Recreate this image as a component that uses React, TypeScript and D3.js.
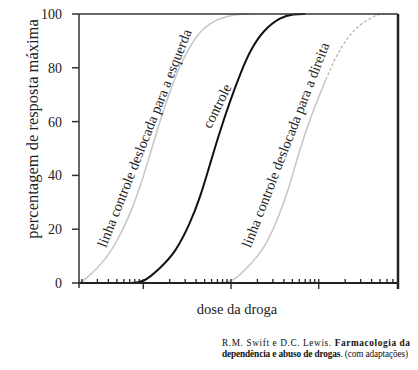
import React, { useEffect, useRef } from 'react';
import * as d3 from 'd3';

// dose (log) vs percentage of maximal response
const controlDose = [7, 10, 15.6, 23.1, 34.3, 44.7, 58.1, 75.5, 98.3, 128, 166, 234, 367, 516, 700];
const controlResp = [0, 0, 5.6, 11.2, 22.3, 32, 44.6, 56.9, 68, 78, 86.6, 94, 98.9, 100, 100];

const leftDose = [1.85, 2.0, 3.13, 4.41, 6.89, 8.97, 11.7, 15.2, 19.8, 25.7, 33.4, 47.1, 73.6, 115, 160];
const leftResp = [0, 0.3, 6, 12, 24.5, 34.6, 46.8, 59.5, 70.6, 80.3, 87.7, 94.8, 98.5, 100, 100];

const rightDose = [70, 101, 158, 247, 348, 452, 589, 765, 995, 1197, 1560, 2028, 2856, 4467, 5225, 6500];
const rightResp = [0, 0, 6, 13.4, 24.5, 34.6, 48.3, 59.5, 69, 75.5, 84, 90.3, 96, 99.6, 100, 100];
const rightSolidUntil = 75.5; // above this the line is dashed

const yTicks = [0, 20, 40, 60, 80, 100];
const majorDoses = [10, 100, 1000];

const labels = [
  { text: 'linha controle deslocada para a esquerda', dose: 11.6, resp: 53.2, angle: -68.4 },
  { text: 'controle', dose: 77.6, resp: 65, angle: -63.5 },
  { text: 'linha controle deslocada para a direita', dose: 471, resp: 50.7, angle: -68.8 },
];

const W = 418;
const H = 370;
const SERIF = 'Liberation Serif, DejaVu Serif, serif';

const App: React.FC = () => {
  const svgRef = useRef<SVGSVGElement>(null);

  useEffect(() => {
    if (!svgRef.current) return;
    const svg = d3.select(svgRef.current);
    svg.selectAll('*').remove();

    const left = 79, right = 398, top = 14, bottom = 283;
    const x = d3.scaleLog().domain([1.85, 8000]).range([left, right]);
    const y = d3.scaleLinear().domain([0, 100]).range([bottom, top]);

    const line = d3
      .line<[number, number]>()
      .x((d) => x(d[0]))
      .y((d) => y(d[1]))
      .curve(d3.curveBasis);

    const zip = (a: number[], b: number[]) => a.map((v, i) => [v, b[i]] as [number, number]);

    const defs = svg.append('defs');
    // clip for the solid / dashed parts of the right curve
    defs
      .append('clipPath')
      .attr('id', 'solidPart')
      .append('rect')
      .attr('x', left)
      .attr('y', y(rightSolidUntil))
      .attr('width', right - left)
      .attr('height', bottom - y(rightSolidUntil) + 5);
    defs
      .append('clipPath')
      .attr('id', 'dashPart')
      .append('rect')
      .attr('x', left)
      .attr('y', top - 5)
      .attr('width', right - left)
      .attr('height', y(rightSolidUntil) - top + 5);

    // curves
    svg
      .append('path')
      .attr('d', line(zip(leftDose, leftResp)))
      .attr('fill', 'none')
      .attr('stroke', '#c8c8c8')
      .attr('stroke-width', 1.6);

    svg
      .append('path')
      .attr('d', line(zip(rightDose, rightResp)))
      .attr('clip-path', 'url(#solidPart)')
      .attr('fill', 'none')
      .attr('stroke', '#c8c8c8')
      .attr('stroke-width', 1.6);

    svg
      .append('path')
      .attr('d', line(zip(rightDose, rightResp)))
      .attr('clip-path', 'url(#dashPart)')
      .attr('fill', 'none')
      .attr('stroke', '#b0b0b0')
      .attr('stroke-width', 1.2)
      .attr('stroke-dasharray', '3,2');

    svg
      .append('path')
      .attr('d', line(zip(controlDose, controlResp)))
      .attr('fill', 'none')
      .attr('stroke', '#111')
      .attr('stroke-width', 2);

    // frame
    svg.append('line').attr('x1', left).attr('x2', right).attr('y1', top).attr('y2', top)
      .attr('stroke', '#333').attr('stroke-width', 1.5);
    svg.append('line').attr('x1', right).attr('x2', right).attr('y1', top).attr('y2', bottom + 6)
      .attr('stroke', '#222').attr('stroke-width', 2.5);
    svg.append('line').attr('x1', left).attr('x2', left).attr('y1', top).attr('y2', bottom + 5)
      .attr('stroke', '#333').attr('stroke-width', 1.5);
    svg.append('line').attr('x1', left).attr('x2', right).attr('y1', bottom).attr('y2', bottom)
      .attr('stroke', '#222').attr('stroke-width', 2);

    // y ticks
    const yt = svg.append('g');
    yTicks.forEach((t) => {
      yt.append('line').attr('x1', left - 7).attr('x2', left).attr('y1', y(t)).attr('y2', y(t))
        .attr('stroke', '#333').attr('stroke-width', 1.5);
      yt.append('text')
        .attr('x', 62)
        .attr('y', y(t) + 5)
        .attr('text-anchor', 'end')
        .style('font-family', SERIF)
        .attr('font-size', 14)
        .attr('fill', '#222')
        .text(t);
    });

    // x ticks (log)
    const xt = svg.append('g');
    x.ticks().forEach((d) => {
      const major = majorDoses.includes(Math.round(d));
      const px = x(d);
      if (px > right - 1) return;
      xt.append('line')
        .attr('x1', px)
        .attr('x2', px)
        .attr('y1', bottom - 4)
        .attr('y2', major ? bottom + 6 : bottom)
        .attr('stroke', '#222')
        .attr('stroke-width', 1.3);
    });

    // axis titles
    svg
      .append('text')
      .attr('transform', 'translate(38,129) rotate(-90)')
      .attr('text-anchor', 'middle')
      .style('font-family', SERIF)
      .attr('font-size', 16.5)
      .attr('fill', '#222')
      .text('percentagem de resposta máxima');

    svg
      .append('text')
      .attr('x', 237)
      .attr('y', 314)
      .attr('text-anchor', 'middle')
      .style('font-family', SERIF)
      .attr('font-size', 14.5)
      .attr('fill', '#222')
      .text('dose da droga');

    // curve labels
    labels.forEach((l) => {
      svg
        .append('text')
        .attr('transform', `translate(${x(l.dose)},${y(l.resp)}) rotate(${l.angle})`)
        .attr('text-anchor', 'middle')
        .style('font-family', SERIF)
        .attr('font-size', 14.4)
        .attr('fill', '#222')
        .text(l.text);
    });

    // source
    const t1 = svg
      .append('text')
      .attr('x', 222)
      .attr('y', 346)
      .style('font-family', SERIF)
      .attr('font-size', 9.3)
      .attr('fill', '#111')
      .attr('textLength', 188)
      .attr('lengthAdjust', 'spacing');
    t1.append('tspan').text('R.M. Swift e D.C. Lewis. ');
    t1.append('tspan').attr('font-weight', 'bold').text('Farmacologia da');

    const t2 = svg
      .append('text')
      .attr('x', 222)
      .attr('y', 357)
      .style('font-family', SERIF)
      .attr('font-size', 9.3)
      .attr('fill', '#111')
      .attr('textLength', 186)
      .attr('lengthAdjust', 'spacing');
    t2.append('tspan').attr('font-weight', 'bold').text('dependência e abuso de drogas');
    t2.append('tspan').text('. (com adaptações)');
  }, []);

  return (
    <svg
      ref={svgRef}
      width={W}
      height={H}
      style={{ position: 'absolute', left: 0, top: 0, background: '#fff' }}
    />
  );
};

export default App;
